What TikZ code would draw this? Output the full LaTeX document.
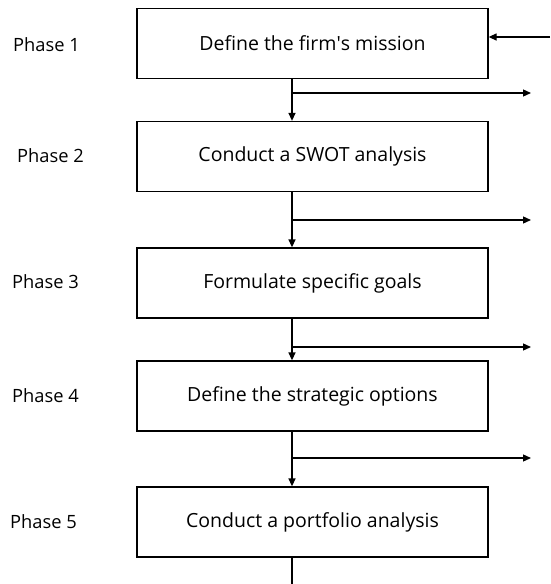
\documentclass[tikz,border=0pt]{standalone}
\usepackage{fontspec}
\setmainfont{Open Sans}
\usetikzlibrary{arrows.meta}
\begin{document}
\begin{tikzpicture}[x=1pt,y=-1pt,
  phasebox/.style={draw,line width=1.3pt,minimum width=351pt,minimum height=70pt,inner sep=0pt,font=\fontsize{19.5}{22}\selectfont},
  phaselabel/.style={anchor=west,inner sep=0pt,font=\fontsize{18.3}{21}\selectfont},
  link/.style={line width=1.3pt},
  arr/.style={link,-{Triangle[length=8pt,width=7pt]}}]
\useasboundingbox (0,0) rectangle (550,584);

% the five phases
\node[phasebox] (b1) at (312.5,43.5) {Define the firm\textquotesingle s mission};
\node[phasebox] (b2) at (312.5,156.5) {Conduct a SWOT analysis};
\node[phasebox] (b3) at (312.5,283) {Formulate specific goals};
\node[phasebox] (b4) at (312.5,396) {Define the strategic options};
\node[phasebox] (b5) at (312.5,522) {Conduct a portfolio analysis};

% phase labels
\node[phaselabel] (p1) at (13,45) {Phase 1};
\node[phaselabel] (p2) at (17,156) {Phase 2};
\node[phaselabel] (p3) at (12,282) {Phase 3};
\node[phaselabel] (p4) at (12,396) {Phase 4};
\node[phaselabel] (p5) at (10,522) {Phase 5};

% main flow line and its side outputs
\coordinate (sp) at (292,0);
\coordinate (in) at (550,37);
\coordinate (o1) at (531,93);
\coordinate (o2) at (531,220);
\coordinate (o3) at (531,347);
\coordinate (o4) at (531,458);
\coordinate (end) at (292,584);

\draw[arr] (in) -- (in -| b1.east);
\draw[arr] (b1.south -| sp) -- (b2.north -| sp);
\draw[arr] (b2.south -| sp) -- (b3.north -| sp);
\draw[arr] (b3.south -| sp) -- (b4.north -| sp);
\draw[arr] (b4.south -| sp) -- (b5.north -| sp);
\draw[link] (b5.south -| sp) -- (end);

\draw[arr] (o1 -| sp) -- (o1);
\draw[arr] (o2 -| sp) -- (o2);
\draw[arr] (o3 -| sp) -- (o3);
\draw[arr] (o4 -| sp) -- (o4);
\end{tikzpicture}
\end{document}
